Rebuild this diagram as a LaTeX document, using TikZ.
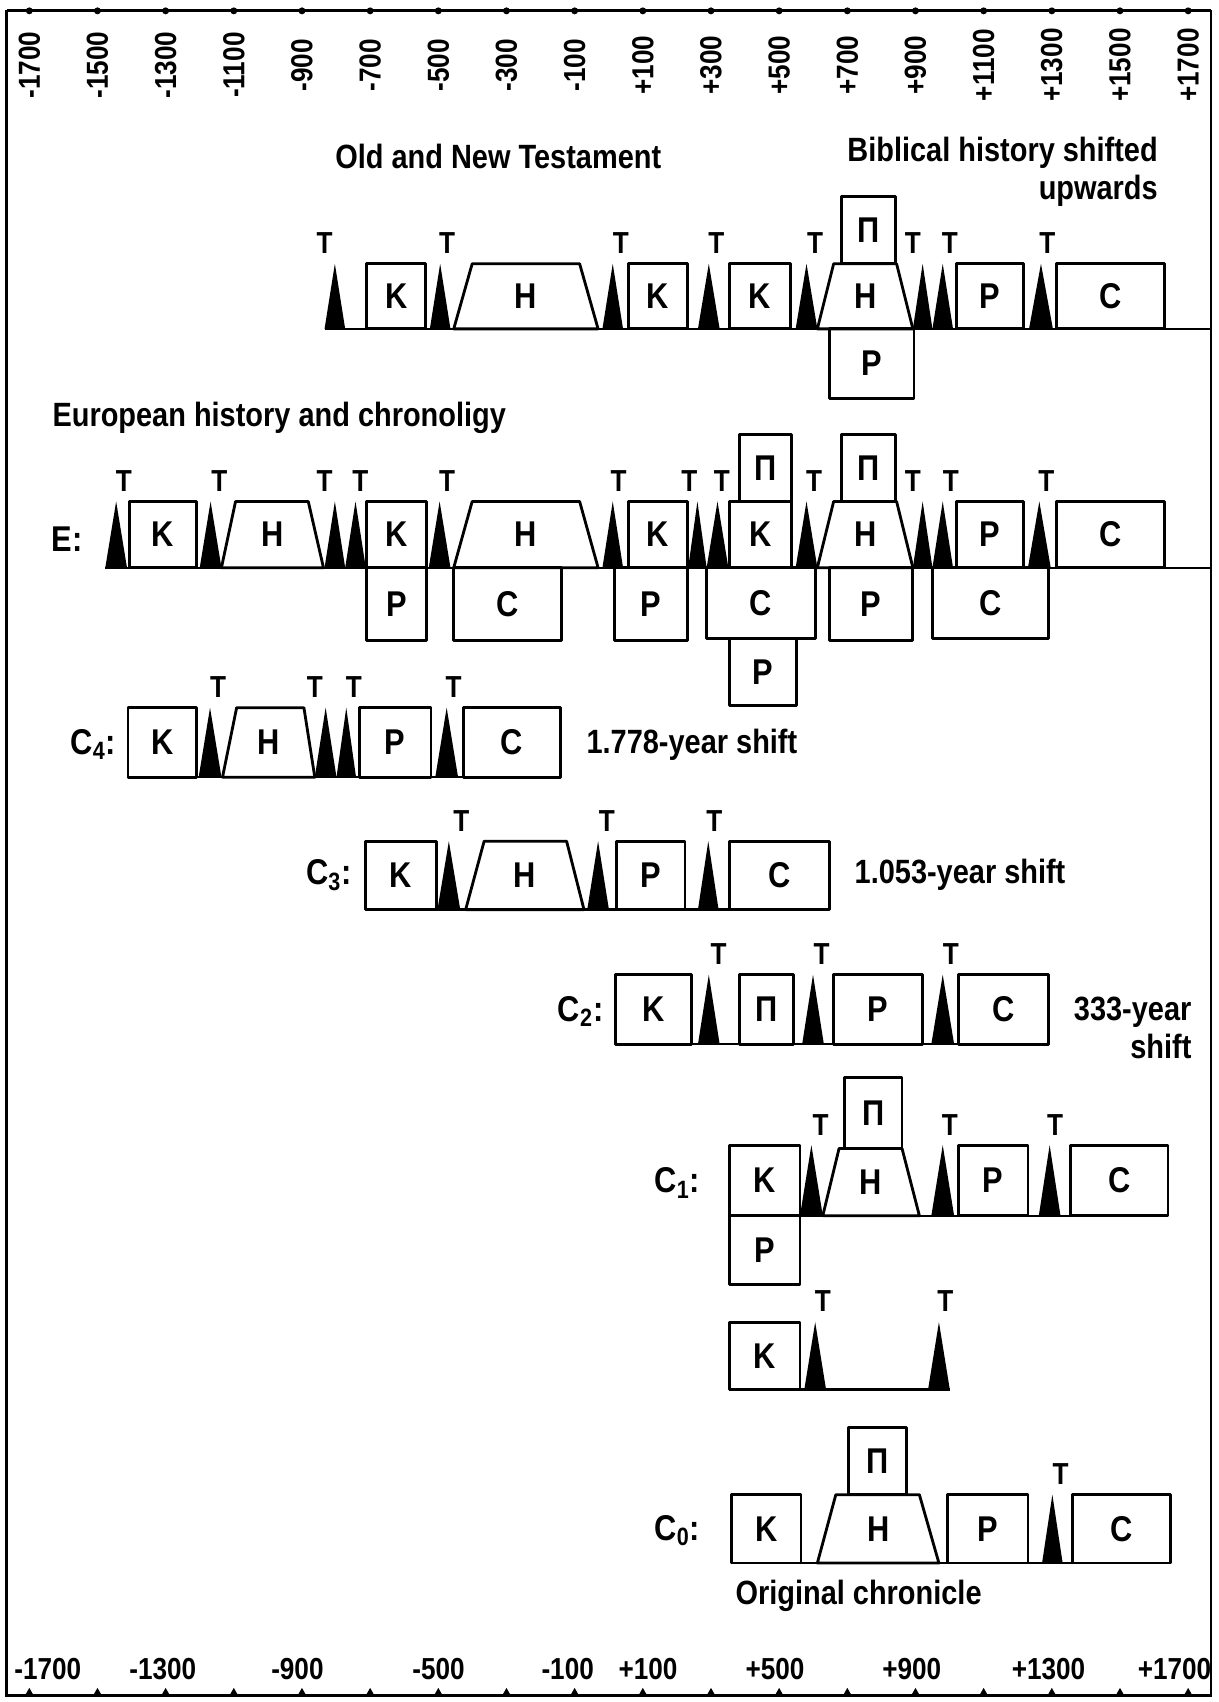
\documentclass[tikz,border=0pt]{standalone}
\usepackage{fontspec}
\setmainfont[FakeStretch=0.86]{Liberation Sans}
\usetikzlibrary{positioning}
% box with letter: name, x1, y1, x2, y2, text
\newcommand{\blk}[6]{%
  \draw[boxln] (#2,#3) rectangle (#4,#5);
  \node[lbl] (#1) at ({(#2+#4)/2},{(#3+#5)/2}) {#6};}
% trapezium: name, bottom left, top left, top right, bottom right, top, base
\newcommand{\trap}[7]{%
  \draw[boxln] (#2,#7) -- (#3,#6) -- (#4,#6) -- (#5,#7) -- cycle;
  \node[lbl] (#1) at ({(#2+#5)/2},{(#6+#7)/2}) {H};}
% black wedge with T: name, left, right, top, base, x of T
\newcommand{\trg}[6]{%
  \fill (#2,#5) -- ({(#2+#3)/2},#4) -- (#3,#5) -- cycle;
  \node[tlab] (#1) at (#6,#4-19) {T};}

\begin{document}
\begin{tikzpicture}[x=0.5pt, y=-0.5pt,
  boxln/.style={line width=1.3pt, line join=round},
  baseln/.style={line width=1.1pt},
  rimln/.style={line width=1pt},
  lbl/.style={font=\bfseries\fontsize{16.5}{16.5}\selectfont, inner sep=0pt},
  tlab/.style={font=\bfseries\fontsize{14}{14}\selectfont, inner sep=0pt},
  ttl/.style={font=\bfseries\fontsize{15.5}{17.5}\selectfont, inner sep=0pt},
  axlab/.style={font=\bfseries\fontsize{14}{14}\selectfont, inner sep=0pt}
]
\useasboundingbox (0,0) rectangle (1123,1568);

% frame and time axes
\coordinate (tl) at (6,10);
\coordinate (br) at (1116,1562);
\draw[rimln] (tl) rectangle (br);
\draw[line width=1.4pt] (6,10) -- (1116,10);
\foreach \yr [count=\i] in {-1700,-1500,...,-100}
  \node[axlab, rotate=90] (ax\i) at ({27+0.314*(\yr+1700)},60) {\yr};
\foreach \yr [count=\i] in {100,300,...,1700}
  \node[axlab, rotate=90] (ay\i) at ({27+0.314*(\yr+1700)},60) {+\yr};
\foreach \k in {0,...,17} {
  \fill ({27+62.8*\k},10) circle[radius=1.6pt];
  \fill ({27+62.8*\k-4},1562) -- ({27+62.8*\k},1555) -- ({27+62.8*\k+4},1562) -- cycle;
}
\foreach \xx/\yr [count=\i] in {44/-1700,150/-1300,274/-900,404/-500,523/-100,
    597/+100,714/+500,840/+900,966/+1300,1082/+1700}
  \node[axlab] (bx\i) at (\xx,1538) {\yr};

% Old and New Testament
\node[ttl] (bible) at (459,144) {Old and New Testament};
\node[ttl, anchor=east, align=right] (shift) at (1067,158) {Biblical history shifted\\upwards};
\coordinate (bL) at (299,303);
\coordinate (bR) at (1116,303);
\draw[baseln] (bL) -- (bR);
\trg{bT1}{299}{318}{243}{303}{299}
\blk{bK1}{338}{243}{392}{303}{K}
\trg{bT2}{396}{415}{243}{303}{412}
\trap{bH1}{418}{435}{534}{551}{243}{303}
\trg{bT3}{555}{574}{243}{303}{572}
\blk{bK2}{579}{243}{633}{303}{K}
\trg{bT4}{643}{663}{243}{303}{660}
\blk{bK3}{672}{243}{728}{303}{K}
\trg{bT5}{733}{753}{243}{303}{751}
\trap{bH2}{753}{768}{826}{841}{243}{303}
\blk{bPe}{775}{181}{825}{243}{П}
\blk{bP1}{764}{303}{842}{367}{P}
\trg{bT6}{841}{859}{243}{303}{841}
\trg{bT7}{859}{878}{243}{303}{875}
\blk{bP2}{881}{243}{943}{303}{P}
\trg{bT8}{948}{970}{243}{303}{965}
\blk{bC1}{973}{243}{1073}{303}{C}

% European history
\node[ttl, anchor=west] (europe) at (48,385) {European history and chronoligy};
\node[lbl] (eLab) at (62,497) {E:};
\coordinate (eL) at (97,523);
\coordinate (eR) at (1116,523);
\draw[baseln] (eL) -- (eR);
\trg{eT1}{97}{117}{462}{523}{114}
\blk{eK1}{119}{462}{181}{523}{K}
\trg{eT2}{184}{204}{462}{523}{202}
\trap{eH1}{204}{217}{284}{298}{462}{523}
\trg{eT3}{299}{318}{462}{523}{299}
\trg{eT4}{318}{337}{462}{523}{332}
\blk{eK2}{338}{462}{393}{523}{K}
\blk{eP1}{338}{523}{393}{590}{P}
\trg{eT5}{395}{415}{462}{523}{412}
\trap{eH2}{418}{435}{534}{551}{462}{523}
\blk{eC1}{418}{523}{517}{590}{C}
\trg{eT6}{555}{574}{462}{523}{570}
\blk{eK3}{579}{462}{633}{523}{K}
\blk{eP2}{566}{523}{633}{590}{P}
\trg{eT7}{634}{651}{462}{523}{635}
\trg{eT8}{651}{671}{462}{523}{665}
\blk{eK4}{672}{462}{729}{523}{K}
\blk{ePe1}{681}{400}{729}{462}{П}
\blk{eC2}{651}{523}{751}{588}{C}
\blk{eP3}{672}{588}{734}{650}{P}
\trg{eT9}{733}{753}{462}{523}{750}
\trap{eH3}{753}{768}{826}{841}{462}{523}
\blk{ePe2}{775}{400}{825}{462}{П}
\blk{eP4}{764}{523}{841}{590}{P}
\trg{eT10}{841}{859}{462}{523}{841}
\trg{eT11}{859}{878}{462}{523}{876}
\blk{eP5}{881}{462}{943}{523}{P}
\blk{eC3}{859}{523}{966}{588}{C}
\trg{eT12}{947}{968}{462}{523}{964}
\blk{eC4}{973}{462}{1073}{523}{C}

% C4
\node[lbl] (c4Lab) at (86,686) {C\textsubscript{4}:};
\coordinate (c4L) at (118,716);
\coordinate (c4R) at (516,716);
\draw[baseln] (c4L) -- (c4R);
\blk{c4K}{118}{652}{181}{716}{K}
\trg{c4T1}{183}{204}{652}{716}{201}
\trap{c4H}{205}{218}{280}{290}{652}{716}
\trg{c4T2}{290}{310}{652}{716}{290}
\trg{c4T3}{310}{328}{652}{716}{326}
\blk{c4P}{331}{652}{397}{716}{P}
\trg{c4T4}{401}{422}{652}{716}{418}
\blk{c4C}{427}{652}{516}{716}{C}
\node[ttl, anchor=west] (c4Txt) at (540,686) {1.778-year shift};

% C3
\node[lbl] (c3Lab) at (303,806) {C\textsubscript{3}:};
\coordinate (c3L) at (337,838);
\coordinate (c3R) at (764,838);
\draw[baseln] (c3L) -- (c3R);
\blk{c3K}{337}{775}{402}{838}{K}
\trg{c3T1}{403}{424}{775}{838}{425}
\trap{c3H}{429}{446}{522}{538}{775}{838}
\trg{c3T2}{541}{561}{775}{838}{559}
\blk{c3P}{568}{775}{631}{838}{P}
\trg{c3T3}{643}{662}{775}{838}{658}
\blk{c3C}{672}{775}{764}{838}{C}
\node[ttl, anchor=west] (c3Txt) at (787,806) {1.053-year shift};

% C2
\node[lbl] (c2Lab) at (535,932) {C\textsubscript{2}:};
\coordinate (c2L) at (567,962);
\coordinate (c2R) at (966,962);
\draw[baseln] (c2L) -- (c2R);
\blk{c2K}{567}{898}{637}{962}{K}
\trg{c2T1}{643}{663}{898}{962}{662}
\blk{c2Pe}{681}{898}{731}{962}{П}
\trg{c2T2}{739}{759}{898}{962}{757}
\blk{c2P}{768}{898}{850}{962}{P}
\trg{c2T3}{858}{879}{898}{962}{876}
\blk{c2C}{883}{898}{966}{962}{C}
\node[ttl, anchor=east, align=right] (c2Txt) at (1098,947) {333-year\\shift};

% C1
\node[lbl] (c1Lab) at (624,1090) {C\textsubscript{1}:};
\coordinate (c1L) at (672,1120);
\coordinate (c1R) at (1076,1120);
\draw[baseln] (c1L) -- (c1R);
\blk{c1K}{672}{1055}{737}{1120}{K}
\blk{c1P1}{672}{1120}{737}{1183}{P}
\trg{c1T1}{737}{758}{1055}{1120}{756}
\trap{c1H}{758}{773}{831}{847}{1058}{1120}
\blk{c1Pe}{778}{993}{831}{1058}{П}
\trg{c1T2}{858}{879}{1055}{1120}{875}
\blk{c1P2}{883}{1055}{947}{1120}{P}
\trg{c1T3}{957}{977}{1055}{1120}{972}
\blk{c1C}{986}{1055}{1076}{1120}{C}

% K with two T
\coordinate (kL) at (672,1280);
\coordinate (kR) at (875,1280);
\draw[baseln] (kL) -- (kR);
\blk{kK}{672}{1218}{737}{1280}{K}
\trg{kT1}{741}{761}{1218}{1280}{758}
\trg{kT2}{855}{875}{1218}{1280}{871}

% C0
\node[lbl] (c0Lab) at (624,1410) {C\textsubscript{0}:};
\coordinate (c0L) at (674,1440);
\coordinate (c0R) at (1078,1440);
\draw[baseln] (c0L) -- (c0R);
\blk{c0K}{674}{1377}{738}{1440}{K}
\trap{c0H}{753}{770}{847}{865}{1377}{1440}
\blk{c0Pe}{782}{1315}{835}{1377}{П}
\blk{c0P}{873}{1377}{947}{1440}{P}
\trg{c0T}{960}{979}{1377}{1440}{977}
\blk{c0C}{988}{1377}{1078}{1440}{C}
\node[ttl] (orig) at (791,1470) {Original chronicle};
\end{tikzpicture}
\end{document}
